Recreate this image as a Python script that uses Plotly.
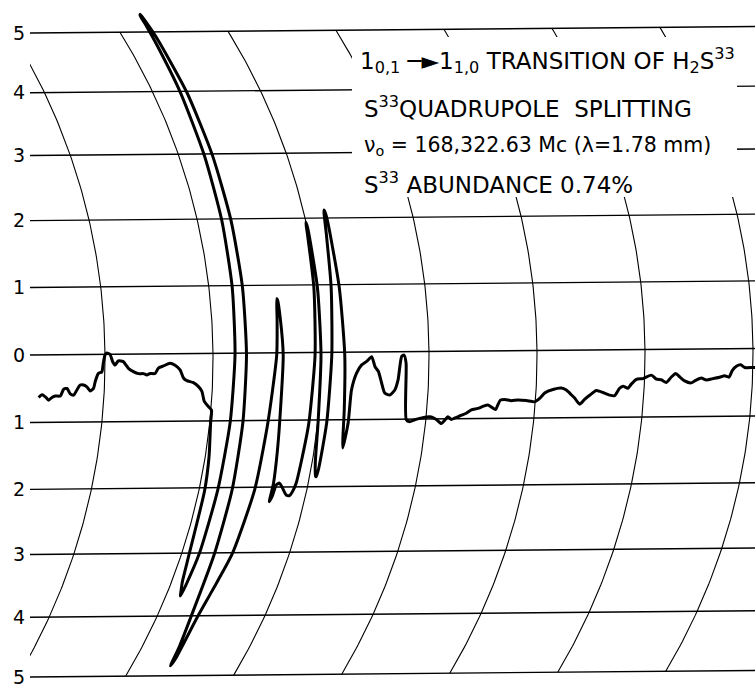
import numpy as np
import plotly.graph_objects as go

# ---------------- data ----------------
# chart divisions printed on the left (deflection, chart units)
levels = [-5, -4, -3, -2, -1, 0, 1, 2, 3, 4, 5]
level_labels = ["5", "4", "3", "2", "1", "0", "1", "2", "3", "4", "5"]
# time marks (curved vertical rulings), in chart divisions
time_marks = [0, 1, 2, 3, 4, 5, 6]

# recorder pen trace: time (divisions) and deflection (chart units)
trace_t = [
    -0.604, -0.574, -0.543, -0.510, -0.481, -0.450, -0.404, -0.377, -0.346, -0.313,
    -0.281, -0.253, -0.225, -0.194, -0.162, -0.129, -0.100, -0.087, -0.060, -0.029,
    -0.016, 0.000, 0.016, 0.046, 0.071, 0.093, 0.123, 0.169, 0.217, 0.264,
    0.311, 0.357, 0.389, 0.419, 0.465, 0.495, 0.541, 0.602, 0.649, 0.696,
    0.729, 0.761, 0.823, 0.871, 0.905, 0.933, 0.976, 1.006,
    1.008, 1.035, 1.053, 1.071, 1.100, 1.125, 1.135, 1.145, 1.164, 1.174,
    1.189, 1.204, 1.216, 1.226, 1.237, 1.254, 1.270, 1.279, 1.285, 1.293,
    1.299, 1.307, 1.314, 1.312, 1.311, 1.311, 1.310, 1.307, 1.307, 1.305,
    1.318, 1.345, 1.360,
    1.370, 1.378, 1.410, 1.470, 1.516, 1.539, 1.590, 1.605, 1.617, 1.623,
    1.635, 1.650, 1.648, 1.662, 1.678, 1.677,
    1.694, 1.706, 1.733, 1.773, 1.819, 1.851, 1.871, 1.888, 1.900, 1.919,
    1.945, 1.971, 1.990, 1.998,
    2.004, 2.004, 2.000, 2.004, 2.030, 2.055, 2.062,
    2.070, 2.084, 2.100, 2.131, 2.165, 2.187, 2.194, 2.202, 2.206, 2.220,
    2.235, 2.252, 2.263,
    2.283, 2.290, 2.331, 2.377, 2.423, 2.469, 2.501, 2.533, 2.566, 2.600,
    2.647, 2.690, 2.717, 2.747, 2.769, 2.788, 2.819, 2.852, 2.897, 2.941,
    3.002, 3.049, 3.098, 3.148, 3.176, 3.202, 3.236, 3.265, 3.310, 3.369,
    3.413, 3.473, 3.518, 3.563, 3.596, 3.638, 3.655, 3.675, 3.715, 3.777,
    3.838, 3.916, 3.994, 4.038, 4.081, 4.156, 4.233, 4.280, 4.329, 4.362,
    4.412, 4.455, 4.499, 4.558, 4.621, 4.684, 4.731, 4.773, 4.803, 4.850,
    4.879, 4.925, 4.985, 5.062, 5.110, 5.156, 5.203, 5.248, 5.287, 5.325,
    5.372, 5.434, 5.479, 5.526, 5.573, 5.633, 5.695, 5.741, 5.781, 5.811,
    5.847, 5.887, 5.924, 6.001, 6.060,
]
trace_v = [
    -0.63, -0.59, -0.62, -0.67, -0.63, -0.61, -0.61, -0.51, -0.50, -0.58,
    -0.60, -0.52, -0.45, -0.45, -0.48, -0.54, -0.50, -0.40, -0.28, -0.26,
    -0.13, -0.01, 0.02, 0.00, -0.11, -0.16, -0.10, -0.11, -0.21, -0.26,
    -0.29, -0.29, -0.31, -0.29, -0.29, -0.21, -0.18, -0.14, -0.17, -0.24,
    -0.36, -0.40, -0.43, -0.49, -0.56, -0.71, -0.79, -0.84,
    -1.02, -1.53, -2.04, -3.01, -3.45, -3.62, -3.68, -3.50, -3.01, -2.03,
    -1.02, -0.02, 0.98, 1.98, 2.98, 3.98, 4.80, 5.10, 5.29, 5.31,
    5.18, 4.90, 3.98, 2.98, 1.98, 0.98, -0.02, -1.02, -2.03, -3.03,
    -4.03, -4.50, -4.83,
    -4.70, -4.02, -3.60, -3.02, -2.03, -1.03, -0.03, 0.50, 0.80, 0.78,
    0.50, -0.04, -1.04, -1.50, -1.94, -2.22,
    -2.12, -1.97, -1.94, -2.02, -2.12, -2.13, -2.07, -1.94, -1.55, -1.04,
    -0.04, 0.96, 1.76, 1.94,
    1.86, 0.96, -0.04, -1.04, -1.64, -1.84, -1.85,
    -1.74, -1.04, -0.04, 0.96, 1.76, 2.08, 2.12, 2.01, 0.96, -0.04,
    -0.84, -1.29, -1.42,
    -1.05, -0.56, -0.31, -0.19, -0.14, -0.07, -0.22, -0.29, -0.46, -0.61,
    -0.64, -0.57, -0.42, -0.07, -0.05, -0.17, -1.01, -1.04, -1.01, -0.99,
    -0.97, -0.97, -1.01, -1.07, -1.02, -0.97, -1.01, -0.99, -0.96, -0.92,
    -0.87, -0.85, -0.82, -0.80, -0.83, -0.87, -0.80, -0.73, -0.72, -0.74,
    -0.73, -0.74, -0.76, -0.71, -0.63, -0.58, -0.56, -0.59, -0.66, -0.71,
    -0.80, -0.73, -0.67, -0.60, -0.63, -0.67, -0.68, -0.57, -0.54, -0.57,
    -0.51, -0.44, -0.43, -0.38, -0.44, -0.45, -0.49, -0.41, -0.36, -0.41,
    -0.47, -0.50, -0.46, -0.43, -0.46, -0.44, -0.42, -0.40, -0.42, -0.32,
    -0.26, -0.24, -0.28, -0.28, -0.28,
]

title_lines = [
    "1<sub>0,1</sub> ─►1<sub>1,0</sub> TRANSITION OF H<sub>2</sub>S<sup>33</sup>",
    "S<sup>33</sup>QUADRUPOLE  SPLITTING",
    "ν<sub>o</sub> = 168,322.63 Mc (λ=1.78 mm)",
    "S<sup>33</sup> ABUNDANCE 0.74%",
]
title_sizes = [23, 23, 20.5, 23]

# ---------------- recorder geometry (curvilinear chart paper) ----------------
PEN_ARM = 5.7407      # pen arm length, in divisions
RAD_PER_UNIT = 0.1092 # pen swing angle per chart unit
SKEW = 0.009          # slight rotation of the paper in the scan
X_LEFT = -0.6944      # left edge of the paper (rotation pivot)
X_RIGHT = 6.0185
Y_BOTTOM = -3.0463
Y_TOP = 3.2870


def paper_xy(t, v):
    t = np.asarray(t, dtype=float)
    v = np.asarray(v, dtype=float)
    th = RAD_PER_UNIT * v
    X = t + PEN_ARM * (np.cos(th) - 1.0)
    Y = PEN_ARM * np.sin(th)
    dx = X - X_LEFT
    Xr = X_LEFT + dx * np.cos(SKEW) - Y * np.sin(SKEW)
    Yr = dx * np.sin(SKEW) + Y * np.cos(SKEW)
    return Xr, Yr


fig = go.Figure()

# horizontal chart rulings
hx, hy = [], []
for lv in levels:
    xs, ys = paper_xy([-1.5, 7.5], [lv, lv])
    hx += list(xs) + [None]
    hy += list(ys) + [None]
fig.add_trace(go.Scatter(x=hx, y=hy, mode="lines",
                         line=dict(color="black", width=1.4),
                         hoverinfo="skip", showlegend=False))

# curved time rulings
ax_, ay_ = [], []
vv = np.linspace(min(levels), max(levels), 161)
for tm in time_marks:
    xs, ys = paper_xy(np.full_like(vv, tm), vv)
    ax_ += list(xs) + [None]
    ay_ += list(ys) + [None]
fig.add_trace(go.Scatter(x=ax_, y=ay_, mode="lines",
                         line=dict(color="black", width=1.1),
                         hoverinfo="skip", showlegend=False))

# pen trace
px_, py_ = paper_xy(trace_t, trace_v)
fig.add_trace(go.Scatter(x=px_, y=py_, mode="lines",
                         line=dict(color="black", width=3.0,
                                   shape="spline", smoothing=0.6),
                         hoverinfo="skip", showlegend=False))

# tick positions on the left edge
tick_y = [PEN_ARM * np.sin(RAD_PER_UNIT * lv) for lv in levels]

# white label panel
fig.add_shape(type="rect", xref="x", yref="y",
              x0=2.287, x1=5.852, y0=1.463, y1=2.944,
              fillcolor="white", line=dict(width=0), layer="above")

text_x = [2.343, 2.380, 2.380, 2.380]
text_y = [2.731, 2.296, 1.935, 1.593]
for s, xx, yy, fs in zip(title_lines, text_x, text_y, title_sizes):
    fig.add_annotation(x=xx, y=yy, xref="x", yref="y", text=s,
                       showarrow=False, xanchor="left", yanchor="middle",
                       font=dict(family="DejaVu Sans", size=fs, color="black"))

fig.update_layout(
    width=755, height=684,
    margin=dict(l=30, r=0, t=0, b=0, pad=0),
    paper_bgcolor="white", plot_bgcolor="white",
    xaxis=dict(range=[X_LEFT, X_RIGHT], visible=False, fixedrange=True),
    yaxis=dict(range=[Y_BOTTOM, Y_TOP], tickvals=tick_y, ticktext=level_labels,
               showgrid=False, zeroline=False, showline=False, ticks="",
               ticklabelstandoff=4, ticklabeloverflow="allow",
               automargin=False, fixedrange=True,
               tickfont=dict(family="DejaVu Sans", size=19, color="black")),
    showlegend=False,
)

fig.write_html("out.html",
               config={"displayModeBar": False},
               post_script="document.body.style.margin='0px';"
                           "document.body.style.overflow='hidden';")
